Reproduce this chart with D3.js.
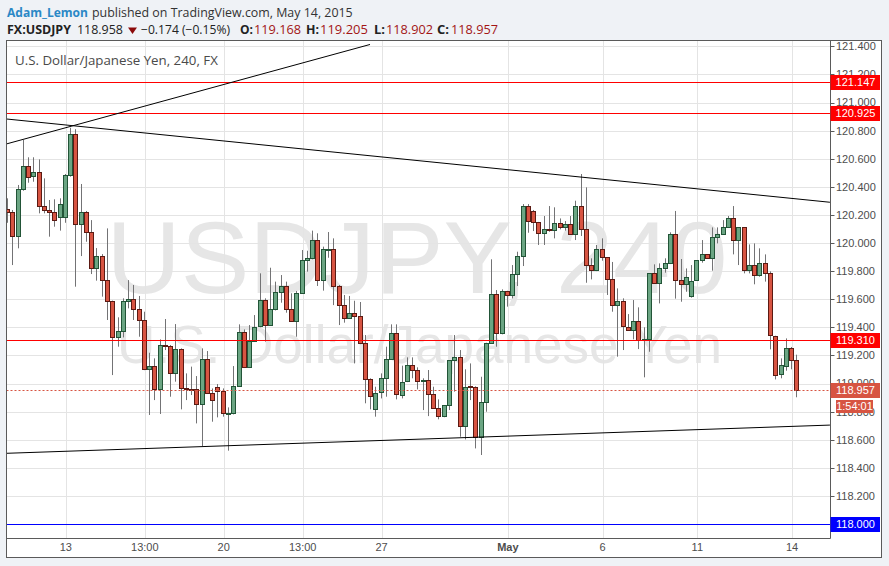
<!DOCTYPE html>
<html><head><meta charset="utf-8">
<script src="https://cdn.jsdelivr.net/npm/d3@7"></script>
<style>
html,body{margin:0;padding:0;background:#eff2f6;}
svg{display:block;}
</style></head><body>
<svg id="chart" width="889" height="566"></svg>
<script>
// ---------- DATA (USDJPY, 240 min candles, 9 Apr – 14 May 2015) ----------
const candleOpen=[120.239,120.218,120.045,120.382,120.548,120.472,120.503,120.261,120.232,120.218,
120.182,120.182,120.481,120.776,120.133,120.218,120.076,119.819,119.905,119.734,
119.585,119.328,119.371,119.585,119.599,119.528,119.449,119.101,119.122,118.958,
119.271,119.264,119.072,119.243,118.965,118.960,118.958,118.849,119.172,118.930,
118.972,118.944,118.787,118.787,118.980,119.364,119.115,119.302,119.404,119.592,
119.414,119.528,119.649,119.694,119.528,119.442,119.642,119.879,119.893,120.021,
119.734,119.957,119.957,119.691,119.556,119.464,119.499,119.478,119.286,119.029,
118.823,118.935,119.037,119.172,119.357,118.923,119.013,119.129,119.096,119.018,
119.025,118.923,118.823,118.768,118.844,119.167,119.186,118.697,118.980,118.977,
118.621,118.870,119.290,119.637,119.357,119.656,119.625,119.777,119.905,120.261,
120.228,120.147,120.069,120.097,120.088,120.140,120.111,120.133,120.061,120.261,
120.097,119.841,119.805,119.955,119.898,119.741,119.556,119.585,119.404,119.385,
119.447,119.314,119.314,119.784,119.713,119.819,119.855,120.061,119.734,119.706,
119.627,119.732,119.876,119.919,119.891,120.040,120.061,120.111,120.175,120.019,
120.111,119.805,119.841,119.770,119.855,119.784,119.340,119.065,119.129,119.255,
119.168];
const candleHigh=[120.318,120.235,120.413,120.733,120.610,120.610,120.595,120.460,120.306,120.311,
120.318,120.491,120.820,120.810,120.420,120.228,120.163,119.964,119.921,120.104,
119.590,119.471,119.606,119.736,119.701,119.623,119.511,119.219,119.179,119.314,
119.459,119.274,119.423,119.250,119.072,119.120,119.053,119.250,119.231,118.965,
118.996,118.965,118.830,119.124,119.421,119.385,119.416,119.487,119.784,119.606,
119.824,119.725,119.772,119.725,119.642,119.658,119.950,119.945,120.088,120.069,
119.974,120.078,120.033,119.701,119.630,119.623,119.589,119.580,119.345,119.037,
118.977,119.072,119.262,119.421,119.421,119.127,119.186,119.186,119.115,119.037,
119.096,118.977,118.887,118.844,119.167,119.345,119.238,119.101,119.143,118.980,
119.048,119.290,119.884,119.665,119.670,119.660,119.843,119.938,120.277,120.277,
120.235,120.150,120.192,120.263,120.254,120.175,120.156,120.192,120.301,120.491,
120.396,119.891,119.986,120.033,119.900,119.865,119.677,119.606,119.494,119.594,
119.542,119.400,119.784,119.848,119.855,119.891,120.076,120.228,119.886,119.819,
119.843,119.876,120.021,119.920,120.111,120.111,120.163,120.192,120.263,120.111,
120.110,119.990,119.997,119.962,119.919,119.798,119.340,119.179,119.321,119.260,
119.205];
const candleLow=[120.144,119.843,119.962,120.372,120.429,120.436,120.211,120.211,120.045,120.116,
120.088,120.144,120.472,119.689,119.907,120.009,119.779,119.732,119.618,119.452,
119.060,119.262,119.328,119.535,119.452,119.333,119.095,118.776,118.882,118.783,
119.238,118.906,119.013,118.816,118.882,118.918,118.716,118.555,118.925,118.728,
118.759,118.764,118.522,118.780,118.977,119.110,119.110,119.300,119.400,119.298,
119.410,119.520,119.575,119.504,119.440,119.333,119.640,119.796,119.884,119.694,
119.661,119.895,119.558,119.416,119.433,119.459,119.143,119.280,118.859,118.816,
118.764,118.894,118.906,119.170,118.887,118.894,119.010,119.037,118.958,118.811,
118.768,118.820,118.745,118.760,118.811,118.942,118.621,118.602,118.882,118.538,
118.491,118.799,119.290,119.262,119.350,119.547,119.606,119.694,119.836,120.073,
120.085,119.986,119.986,120.080,120.033,120.097,120.088,120.057,120.021,120.050,
119.717,119.741,119.800,119.874,119.630,119.511,119.191,119.238,119.381,119.314,
119.245,119.044,119.226,119.710,119.570,119.789,119.850,119.604,119.582,119.653,
119.611,119.730,119.860,119.891,119.803,119.997,120.060,120.110,119.919,119.843,
119.784,119.784,119.706,119.760,119.725,119.243,119.029,119.037,119.091,119.101,
118.902];
const candleClose=[120.220,120.045,120.382,120.548,120.472,120.503,120.261,120.232,120.218,120.161,
120.275,120.481,120.776,120.133,120.218,120.076,119.819,119.905,119.734,119.585,
119.328,119.371,119.585,119.599,119.528,119.449,119.101,119.122,118.958,119.271,
119.262,119.072,119.243,118.965,118.958,118.958,118.849,119.172,118.930,118.880,
118.944,118.787,118.792,118.980,119.364,119.115,119.302,119.404,119.592,119.414,
119.528,119.649,119.694,119.528,119.442,119.642,119.879,119.893,120.021,119.734,
119.957,119.960,119.691,119.556,119.464,119.499,119.478,119.286,119.029,118.906,
118.935,119.037,119.172,119.357,118.923,119.013,119.129,119.096,119.018,119.025,
118.923,118.823,118.768,118.844,119.167,119.186,118.697,118.977,118.975,118.621,
118.870,119.290,119.637,119.357,119.656,119.625,119.777,119.905,120.261,120.152,
120.147,120.069,120.097,120.092,120.140,120.111,120.133,120.061,120.261,120.097,
119.841,119.805,119.955,119.898,119.741,119.556,119.585,119.404,119.385,119.447,
119.314,119.316,119.784,119.713,119.819,119.855,120.061,119.734,119.706,119.755,
119.732,119.876,119.919,119.891,120.040,120.061,120.111,120.175,120.019,120.111,
119.805,119.841,119.770,119.855,119.784,119.340,119.065,119.129,119.255,119.168,
118.957];
const candleIndex=candleOpen.map((d,i)=>i);

const priceTicks=[118.2,118.4,118.6,118.8,119.0,119.2,119.4,119.6,119.8,120.0,120.2,120.4,120.6,120.8,121.0,121.2,121.4];
const gridPrices=[118.0].concat(priceTicks);
const timeTickIndex=[11,26,41,56,71,95,113,131,149];
const timeTickLabels=["13","13:00","20","13:00","27","May","6","11","14"];

const levelPrices=[121.147,120.925,119.310,118.000];
const levelColors=["#ff0000","#ff0000","#ff0000","#0000ff"];
const lastPrice=118.957;
const countdownText="1:54:01";

// trend lines: [index0, price0, index1, price1]
const trendLineA=[-0.3,120.705,68.8,121.413];
const trendLineB=[-0.4,120.883,156.2,120.290];
const trendLineC=[-0.4,118.503,156.2,118.704];

// ---------- LAYOUT ----------
const svg=d3.select("#chart");
const PL=6.5, PR=830.5, PT=40.5, PB=538.5, FR=881.5, FB=557.5;
const AX="Liberation Sans, Arial, sans-serif";
const HF="'Open Sans', 'DejaVu Sans', sans-serif";

const x=d3.scaleLinear().domain([0,150]).range([8,797.3]);
const y=d3.scaleLinear().domain([118,121.4]).range([524,46.3]);

function fit(sel,target){const w=sel.node().getComputedTextLength();const s=parseFloat(sel.attr("font-size"));sel.attr("font-size",(s*target/w).toFixed(2));}

// header
const h1a=svg.append("text").attr("x",7).attr("y",17).attr("font-family",HF).attr("font-weight","bold").attr("font-size",14).attr("fill","#2a88c6").text("Adam_Lemon");
fit(h1a,81);
const h1b=svg.append("text").attr("x",92).attr("y",17).attr("font-family",HF).attr("font-size",14).attr("fill","#333").text("published on TradingView.com, May 14, 2015");
fit(h1b,261);
const runs=[
 {t:"FX:USDJPY",x:7,w:64,b:true,c:"#222"},
 {t:"118.958",x:77,w:46,b:false,c:"#222"},
 {t:"\u22120.174 (\u22120.15%)",x:141,w:89,b:false,c:"#222"},
 {t:"O:",x:240,w:13,b:true,c:"#222"},
 {t:"119.168",x:254,w:47,b:false,c:"#a31515"},
 {t:"H:",x:306,w:13,b:true,c:"#222"},
 {t:"119.205",x:320,w:48,b:false,c:"#a31515"},
 {t:"L:",x:374,w:11,b:true,c:"#222"},
 {t:"118.902",x:386,w:47,b:false,c:"#a31515"},
 {t:"C:",x:437,w:12,b:true,c:"#222"},
 {t:"118.957",x:451,w:47,b:false,c:"#a31515"}];
runs.forEach(r=>{const t=svg.append("text").attr("x",r.x).attr("y",34).attr("font-family",HF).attr("font-weight",r.b?"bold":"normal").attr("font-size",12).attr("fill",r.c).text(r.t);fit(t,r.w);});
svg.append("path").attr("d","M128,27.5L137,27.5L132.5,34Z").attr("fill","#8b0a0a");

// frame
svg.append("rect").attr("x",PL).attr("y",PT).attr("width",FR-PL).attr("height",FB-PT).attr("fill","#fff").attr("stroke","#5a5a5a");

const defs=svg.append("defs");
defs.append("clipPath").attr("id","plotclip").append("rect").attr("x",PL+0.5).attr("y",PT+0.5).attr("width",PR-PL-1).attr("height",PB-PT-1);
const plot=svg.append("g").attr("clip-path","url(#plotclip)");

// watermark
const wm1=plot.append("text").attr("x",417).attr("y",293).attr("text-anchor","middle").attr("font-family",AX).attr("font-size",102).attr("fill","#e6e6e6").text("USDJPY, 240");
fit(wm1,621);
const wm2=plot.append("text").attr("x",419.5).attr("y",363).attr("text-anchor","middle").attr("font-family",AX).attr("font-size",48).attr("fill","#e6e6e6").text("U.S. Dollar/Japanese Yen");
fit(wm2,605);

// grid
plot.selectAll(".hg").data(gridPrices).enter().append("line")
 .attr("x1",PL).attr("x2",PR).attr("y1",d=>Math.round(y(d))+0.5).attr("y2",d=>Math.round(y(d))+0.5)
 .attr("stroke","#e4e4e4");
plot.selectAll(".vg").data(timeTickIndex).enter().append("line")
 .attr("x1",d=>Math.round(x(d))+0.5).attr("x2",d=>Math.round(x(d))+0.5).attr("y1",PT).attr("y2",PB)
 .attr("stroke","#e4e4e4");

// legend
const lg=plot.append("text").attr("x",15).attr("y",65).attr("font-family",HF).attr("font-size",13).attr("fill","#4a4a4a").text("U.S. Dollar/Japanese Yen, 240, FX");
fit(lg,203);

// candles
const up=i=>candleClose[i]>=candleOpen[i];
const cg=plot.append("g");
cg.selectAll(".wick").data(candleIndex).enter().append("line")
 .attr("x1",i=>Math.round(x(i))-0.5).attr("x2",i=>Math.round(x(i))-0.5)
 .attr("y1",i=>y(candleHigh[i])).attr("y2",i=>y(candleLow[i]))
 .attr("stroke","#737375").attr("stroke-width",1);
cg.selectAll(".body").data(candleIndex).enter().append("rect")
 .attr("x",i=>Math.round(x(i))-2.5).attr("width",4)
 .attr("y",i=>Math.round(y(Math.max(candleOpen[i],candleClose[i])))+0.5)
 .attr("height",i=>Math.max(1,Math.round(Math.abs(y(candleOpen[i])-y(candleClose[i])))))
 .attr("fill",i=>up(i)?"#6ba583":"#d75442")
 .attr("stroke",i=>up(i)?"#225437":"#5b1a13").attr("stroke-width",1);

// horizontal levels
plot.selectAll(".lvl").data(levelPrices).enter().append("line")
 .attr("x1",PL).attr("x2",PR).attr("y1",d=>Math.round(y(d))+0.5).attr("y2",d=>Math.round(y(d))+0.5)
 .attr("stroke",(d,i)=>levelColors[i]).attr("stroke-width",1);
plot.append("line").attr("x1",PL).attr("x2",PR).attr("y1",Math.round(y(lastPrice))+0.5).attr("y2",Math.round(y(lastPrice))+0.5)
 .attr("stroke","#d75442").attr("stroke-dasharray","2,2");

// trend lines
[trendLineA,trendLineB,trendLineC].forEach(t=>{
 plot.append("line").attr("x1",x(t[0])).attr("y1",y(t[1])).attr("x2",x(t[2])).attr("y2",y(t[3]))
  .attr("stroke","#000").attr("stroke-width",1);
});

// axes lines
svg.append("line").attr("x1",PR).attr("x2",PR).attr("y1",PT).attr("y2",PB).attr("stroke","#5a5a5a");
svg.append("line").attr("x1",PL).attr("x2",PR).attr("y1",PB).attr("y2",PB).attr("stroke","#5a5a5a");

// right axis
const ra=svg.append("g");
ra.selectAll(".tk").data(priceTicks).enter().append("line")
 .attr("x1",PR).attr("x2",PR+4).attr("y1",d=>Math.round(y(d))+0.5).attr("y2",d=>Math.round(y(d))+0.5).attr("stroke","#5a5a5a");
ra.selectAll(".tl").data(priceTicks).enter().append("text")
 .attr("x",836).attr("y",d=>y(d)).attr("dy","0.36em").attr("font-family",AX).attr("font-size",11).attr("fill","#4d4d4d")
 .text(d=>d3.format(".3f")(d));

// level labels
levelPrices.forEach((p,i)=>{
 const cy=Math.round(y(p));
 svg.append("rect").attr("x",PR).attr("y",cy-7).attr("width",49.5).attr("height",15).attr("fill",levelColors[i]);
 svg.append("text").attr("x",855.5).attr("y",cy).attr("dy","0.36em").attr("text-anchor","middle").attr("font-family",AX).attr("font-size",11).attr("fill","#fff").text(d3.format(".3f")(p));
});
{
 const cy=Math.round(y(lastPrice));
 svg.append("rect").attr("x",PR).attr("y",cy-7).attr("width",49.5).attr("height",15).attr("fill","#d75442");
 svg.append("text").attr("x",855.5).attr("y",cy).attr("dy","0.36em").attr("text-anchor","middle").attr("font-family",AX).attr("font-size",11).attr("fill","#fff").text(d3.format(".3f")(lastPrice));
 svg.append("rect").attr("x",836).attr("y",cy+10).attr("width",37).attr("height",13).attr("fill","#d75442");
 svg.append("text").attr("x",854.5).attr("y",cy+16.5).attr("dy","0.36em").attr("text-anchor","middle").attr("font-family",AX).attr("font-size",11).attr("fill","#fff").text(countdownText);
}

// bottom axis labels
svg.selectAll(".xl").data(timeTickIndex).enter().append("text")
 .attr("x",d=>x(d)).attr("y",551).attr("text-anchor","middle").attr("font-family",AX).attr("font-size",11)
 .attr("font-weight",(d,i)=>timeTickLabels[i]==="May"?"bold":"normal").attr("fill","#4d4d4d")
 .text((d,i)=>timeTickLabels[i]);
</script>
</body></html>
